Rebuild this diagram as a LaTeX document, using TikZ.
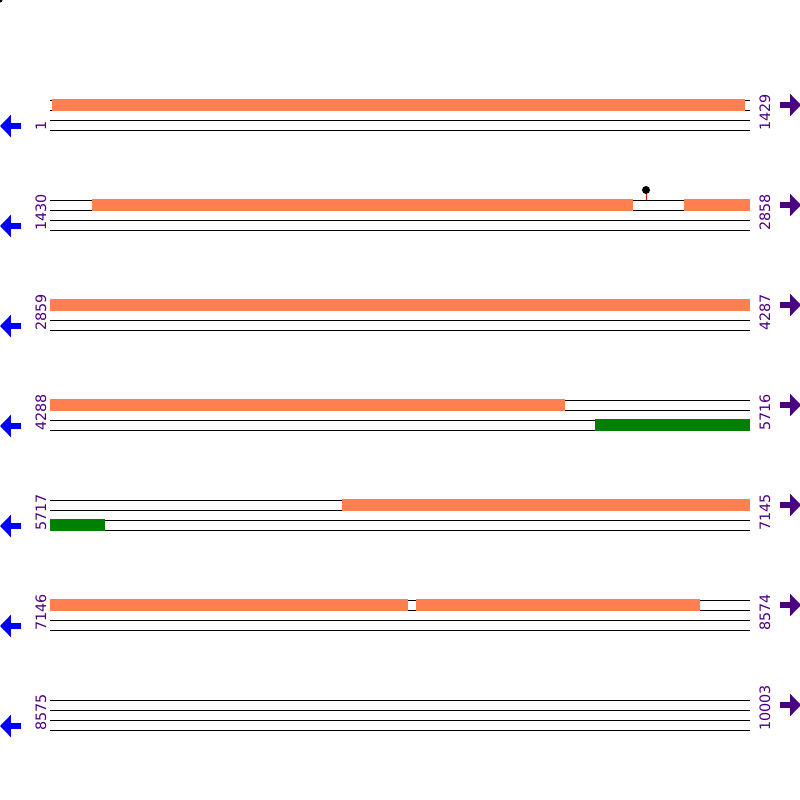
\documentclass[tikz,border=0pt]{standalone}
\usepackage{fontspec}
\setmainfont{DejaVu Sans}
\usetikzlibrary{arrows.meta}
\definecolor{featorange}{RGB}{255,127,80}
\definecolor{featgreen}{RGB}{0,128,0}
\definecolor{numpurple}{RGB}{75,0,130}

\begin{document}
\begin{tikzpicture}[
    x=0.25mm,
    y=-0.25mm,
    strand/.style={
        draw=black,
        line width=0.25mm
    },
    featbar/.style={
        fill=featorange
    },
    orfbar/.style={
        fill=featgreen
    },
    posnum/.style={
        text=numpurple,
        rotate=90,
        anchor=west,
        inner sep=0pt,
        font=\fontsize{10.2}{12}\selectfont
    },
    revarrow/.style={
        draw=blue,
        line width=1.6mm,
        -{Triangle[width=5.4mm,length=2.7mm]}
    },
    fwdarrow/.style={
        draw=numpurple,
        line width=1.6mm,
        -{Triangle[width=5.4mm,length=2.7mm]}
    },
    sitestick/.style={
        draw=red,
        line width=0.25mm
    }
]
    \useasboundingbox (0,0) rectangle (800,800);
    \fill (0,0) circle (2.5);

    % Strands
    \draw[strand] (50,100) -- (750,100) (50,110) -- (750,110) (50,120) -- (750,120) (50,130) -- (750,130);
    \draw[strand] (50,200) -- (750,200) (50,210) -- (750,210) (50,220) -- (750,220) (50,230) -- (750,230);
    \draw[strand] (50,300) -- (750,300) (50,310) -- (750,310) (50,320) -- (750,320) (50,330) -- (750,330);
    \draw[strand] (50,400) -- (750,400) (50,410) -- (750,410) (50,420) -- (750,420) (50,430) -- (750,430);
    \draw[strand] (50,500) -- (750,500) (50,510) -- (750,510) (50,520) -- (750,520) (50,530) -- (750,530);
    \draw[strand] (50,600) -- (750,600) (50,610) -- (750,610) (50,620) -- (750,620) (50,630) -- (750,630);
    \draw[strand] (50,700) -- (750,700) (50,710) -- (750,710) (50,720) -- (750,720) (50,730) -- (750,730);

    % Features
    \fill[featbar] (52,99.4) rectangle (745,110.6);
    \fill[featbar] (92,199.4) rectangle (633,210.6);
    \fill[featbar] (684,199.4) rectangle (750,210.6);
    \fill[featbar] (50,299.4) rectangle (750,310.6);
    \fill[featbar] (50,399.4) rectangle (565,410.6);
    \fill[orfbar]  (595,419.4) rectangle (750,430.6);
    \fill[featbar] (342,499.4) rectangle (750,510.6);
    \fill[orfbar]  (50,519.4) rectangle (105,530.6);
    \fill[featbar] (50,599.4) rectangle (408,610.6);
    \fill[featbar] (416,599.4) rectangle (700,610.6);

    % Site marker
    \coordinate (sitebase) at (646,200);
    \node (site) [circle, fill=black, inner sep=0pt, minimum size=2mm] at (646,190) {};
    \draw[sitestick] (sitebase) -- (site.south);

    % Positions
    \node (start1) [posnum] at (41,131) {1};
    \node (end1)   [posnum] at (765,131) {1429};
    \node (start2) [posnum] at (41,231) {1430};
    \node (end2)   [posnum] at (765,231) {2858};
    \node (start3) [posnum] at (41,331) {2859};
    \node (end3)   [posnum] at (765,331) {4287};
    \node (start4) [posnum] at (41,431) {4288};
    \node (end4)   [posnum] at (765,431) {5716};
    \node (start5) [posnum] at (41,531) {5717};
    \node (end5)   [posnum] at (765,531) {7145};
    \node (start6) [posnum] at (41,631) {7146};
    \node (end6)   [posnum] at (765,631) {8574};
    \node (start7) [posnum] at (41,731) {8575};
    \node (end7)   [posnum] at (765,731) {10003};

    % Direction arrows
    \draw[revarrow] (21,126) -- (0,126);
    \draw[fwdarrow] (780,105) -- (801,105);
    \draw[revarrow] (21,226) -- (0,226);
    \draw[fwdarrow] (780,205) -- (801,205);
    \draw[revarrow] (21,326) -- (0,326);
    \draw[fwdarrow] (780,305) -- (801,305);
    \draw[revarrow] (21,426) -- (0,426);
    \draw[fwdarrow] (780,405) -- (801,405);
    \draw[revarrow] (21,526) -- (0,526);
    \draw[fwdarrow] (780,505) -- (801,505);
    \draw[revarrow] (21,626) -- (0,626);
    \draw[fwdarrow] (780,605) -- (801,605);
    \draw[revarrow] (21,726) -- (0,726);
    \draw[fwdarrow] (780,705) -- (801,705);

\end{tikzpicture}
\end{document}
